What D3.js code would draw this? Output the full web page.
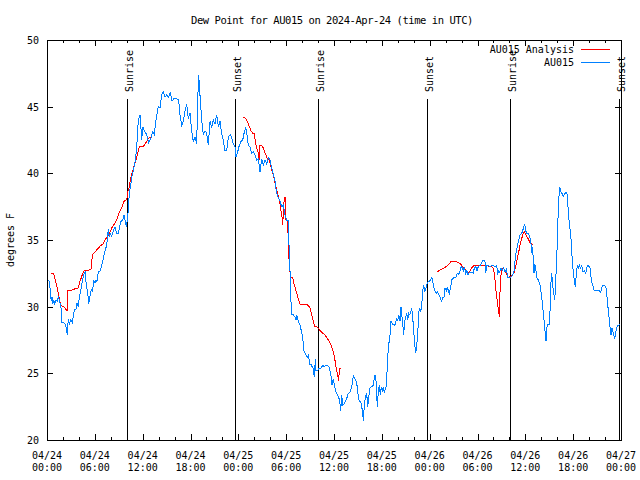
<!DOCTYPE html>
<html><head><meta charset="utf-8">
<script src="https://cdn.jsdelivr.net/npm/d3@7"></script>
<style>html,body{margin:0;padding:0;background:#fff;} svg{display:block;}</style>
</head><body>
<svg id="chart" width="640" height="480"></svg>
<script>
const titleText = "Dew Point for AU015 on 2024-Apr-24 (time in UTC)";
const yLabelText = "degrees F";
const seriesNames = ["AU015 Analysis", "AU015"];
const seriesColors = ["#ff0000", "#0080ff"];
const startTime = "2024-04-24T00:00Z";
const endTime = "2024-04-27T00:00Z";
const yDomain = [20, 50];
const yTicks = [20, 25, 30, 35, 40, 45, 50];

// AU015 observations: hours since start, value (deg F)
const obsHours = [
0.16,0.34,0.41,0.54,0.63,0.72,0.84,0.97,1.13,1.29,1.42,1.59,
1.76,1.84,2.04,2.30,2.42,2.55,2.67,2.80,2.97,3.17,3.35,3.47,
3.64,3.76,3.93,4.05,4.18,4.35,4.48,4.68,4.80,4.93,5.11,5.23,
5.36,5.48,5.61,5.68,5.86,6.02,6.15,6.27,6.44,6.69,6.86,7.06,
7.28,7.49,7.69,7.81,7.94,8.12,8.37,8.53,8.74,8.94,9.12,9.28,
9.50,9.66,9.78,9.95,10.07,10.20,10.32,10.50,10.62,10.79,10.95,11.08,
11.25,11.45,11.67,11.88,12.00,12.21,12.51,12.76,13.01,13.26,13.46,13.67,
13.96,14.17,14.39,14.59,14.80,15.02,15.27,15.47,15.68,15.93,16.27,16.52,
16.68,16.90,17.10,17.31,17.52,17.72,17.94,18.15,18.35,18.56,18.78,18.90,
19.03,19.10,19.23,19.41,19.61,19.82,20.03,20.23,20.45,20.66,20.86,21.07,
21.29,21.49,21.70,21.91,22.11,22.33,22.54,22.74,22.96,23.17,23.37,23.58,
23.71,23.87,24.12,24.33,24.55,24.75,24.93,25.09,25.25,25.46,25.68,25.88,
26.09,26.30,26.51,26.72,26.93,27.13,27.35,27.56,27.76,27.97,28.19,28.39,
28.60,28.81,29.01,29.23,29.44,29.64,29.85,30.07,30.27,30.32,30.39,30.48,
30.57,30.64,30.90,31.11,31.23,31.32,31.52,31.74,31.90,32.07,32.24,32.49,
32.65,32.83,32.90,33.08,33.24,33.40,33.53,33.66,33.74,33.96,34.16,34.37,
34.58,34.75,34.96,35.16,35.37,35.59,35.75,35.91,36.09,36.25,36.42,36.59,
36.72,36.84,36.97,37.09,37.29,37.59,37.80,38.01,38.22,38.42,38.63,38.76,
38.92,39.05,39.17,39.35,39.48,39.60,39.68,39.80,39.93,40.10,40.23,40.35,
40.52,40.73,40.93,41.06,41.18,41.27,41.43,41.56,41.68,41.81,41.93,42.06,
42.19,42.31,42.44,42.56,42.69,42.81,43.03,43.15,43.36,43.56,43.69,43.87,
43.99,44.12,44.28,44.41,44.49,44.62,44.74,44.87,45.00,45.12,45.25,45.37,
45.50,45.62,45.75,45.87,46.00,46.12,46.25,46.37,46.50,46.63,46.75,46.88,
47.00,47.13,47.25,47.38,47.54,47.70,47.92,48.13,48.29,48.46,48.63,48.88,
49.01,49.17,49.30,49.51,49.64,49.80,49.92,50.09,50.21,50.34,50.46,50.64,
50.76,50.93,51.05,51.27,51.47,51.60,51.77,51.89,52.06,52.22,52.35,52.52,
52.68,52.81,53.02,53.27,53.47,53.60,53.78,53.94,54.10,54.32,54.53,54.73,
54.94,55.03,55.16,55.36,55.57,55.78,55.98,56.20,56.41,56.53,56.66,56.79,
56.95,57.11,57.29,57.45,57.62,57.79,57.95,58.20,58.42,58.58,58.70,58.83,
58.99,59.17,59.33,59.54,59.67,59.80,59.92,60.05,60.17,60.38,60.50,60.68,
60.80,60.88,61.01,61.09,61.18,61.30,61.43,61.63,61.84,62.00,62.18,62.34,
62.51,62.59,62.68,62.81,63.01,63.10,63.18,63.31,63.44,63.56,63.69,63.81,
63.94,64.06,64.19,64.31,64.44,64.60,64.76,64.98,65.19,65.31,65.39,65.57,
65.73,65.89,66.02,66.14,66.27,66.40,66.52,66.65,66.77,66.90,67.07,67.23,
67.40,67.57,67.74,67.90,68.11,68.28,68.45,68.65,68.95,69.28,69.45,69.62,
69.78,69.96,70.12,70.28,70.46,70.62,70.75,70.87,71.04,71.21,71.38,71.54,
71.72,71.80];
const obsValues = [
32.0,31.8,31.1,30.4,30.7,30.2,30.5,30.2,30.5,30.4,30.8,30.4,
29.9,28.8,28.8,28.7,28.4,27.9,29.1,28.7,29.0,28.8,29.5,29.8,
29.8,30.3,30.0,30.7,31.1,31.6,32.1,32.5,32.6,31.6,31.0,30.2,
30.7,31.1,31.3,31.1,31.9,31.8,32.0,31.9,32.6,32.7,33.1,33.6,
34.2,34.6,35.8,35.2,35.5,35.3,35.8,36.0,35.5,35.5,36.0,36.4,
36.5,36.9,36.5,36.0,36.5,37.2,38.5,39.1,39.7,40.1,40.6,41.0,
41.9,44.0,44.4,42.5,43.5,43.2,42.9,42.3,42.6,43.1,42.9,44.0,
45.0,44.9,45.9,46.1,45.7,45.9,45.7,46.1,45.4,45.6,45.6,45.5,
44.4,43.6,43.9,44.7,45.2,44.1,44.5,43.2,42.4,42.7,42.2,45.5,
47.4,46.7,45.5,44.0,42.9,43.2,43.0,42.1,43.9,43.4,44.0,43.7,
44.4,43.5,43.9,43.0,42.5,41.7,41.7,42.7,42.9,42.7,42.2,42.0,
41.2,41.5,42.1,42.4,42.5,43.1,43.4,42.9,42.1,42.0,41.5,41.6,
41.4,41.0,41.1,40.1,41.1,40.6,41.0,40.7,41.2,41.0,40.4,39.9,
39.4,38.5,38.2,37.9,37.5,37.6,36.9,36.5,36.5,35.2,34.2,32.7,
31.5,29.4,29.4,29.2,29.0,29.4,28.9,28.6,28.2,27.7,26.7,26.4,
26.2,26.4,25.7,25.7,25.5,25.4,24.7,26.1,25.2,25.2,25.4,25.4,
25.6,25.5,25.6,25.6,25.5,25.0,24.1,24.6,24.0,23.6,23.4,23.2,
22.9,22.2,23.4,22.6,22.7,23.1,23.5,23.6,24.0,24.8,24.6,24.4,
24.0,23.2,22.9,22.9,22.5,22.0,21.4,22.6,23.2,23.5,22.5,23.2,
23.9,24.0,24.1,24.7,24.9,24.4,22.5,23.6,24.1,23.4,24.0,23.6,
24.0,23.5,23.9,24.0,25.6,26.9,27.9,28.9,28.7,28.6,28.7,29.1,
28.9,29.4,28.9,30.0,29.5,28.7,27.9,28.9,29.2,29.5,29.0,29.5,
29.4,29.6,29.9,29.2,28.2,27.2,26.5,27.1,27.9,29.6,29.9,29.6,
30.1,31.2,31.6,31.1,31.4,31.8,31.9,32.0,32.2,31.6,31.2,31.0,
31.1,30.9,30.7,30.4,30.7,30.7,31.4,31.2,31.5,31.2,31.0,31.5,
32.0,32.1,32.2,32.2,32.5,32.4,32.6,32.9,33.0,32.7,33.0,32.5,
32.7,32.4,32.6,32.6,32.5,32.9,33.0,32.7,33.0,33.1,33.3,33.5,
33.4,32.5,33.1,33.1,33.0,33.1,33.1,33.0,33.1,32.4,32.7,32.6,
32.9,32.7,32.9,32.6,32.8,32.2,32.2,32.2,32.4,32.7,33.4,34.0,
34.5,35.0,35.4,35.5,35.7,36.0,36.2,35.7,35.5,35.5,35.3,35.0,
34.0,34.5,33.5,32.5,33.2,32.9,32.2,32.0,31.6,31.0,30.0,29.0,
27.9,27.4,28.4,28.7,28.7,29.7,31.5,32.5,31.5,31.0,30.5,32.0,
33.5,36.0,38.0,39.0,38.6,38.5,38.3,38.5,38.6,38.1,37.0,36.0,
35.1,33.5,32.5,32.0,31.5,32.5,33.1,32.9,33.1,32.9,33.1,32.6,
32.7,32.5,33.0,33.1,32.9,32.0,31.6,31.2,31.2,31.2,31.1,31.5,
31.6,31.6,31.4,30.5,29.4,28.5,27.9,28.4,28.0,27.6,28.2,28.6,
28.6,28.7];

// AU015 Analysis: hours since start, value; null marks a gap
const anaHours = [
0.50,0.84,1.00,1.22,1.42,1.59,1.76,2.04,2.26,2.51,2.63,2.89,3.30,3.93,4.14,4.43,
4.68,4.98,5.52,5.61,5.73,6.02,6.44,6.77,7.06,7.28,7.61,7.90,8.12,8.44,8.74,9.03,
9.37,9.66,9.91,10.03,10.12,10.29,10.45,10.70,10.95,11.25,11.45,11.58,12.08,12.51,12.83,13.13,
null,
24.62,24.96,25.13,25.38,25.59,25.80,26.00,26.13,26.30,26.51,26.59,26.72,26.93,27.13,27.38,27.63,
27.88,28.06,28.22,28.39,28.56,28.73,28.89,29.06,29.23,29.35,29.48,29.57,29.64,29.77,29.89,29.98,
30.14,30.23,30.32,30.39,30.57,30.82,30.98,31.15,31.32,31.52,31.74,31.95,32.36,32.78,32.99,33.20,
33.40,33.62,33.83,34.03,34.24,34.58,34.87,35.16,35.41,35.71,35.91,36.09,36.25,36.42,36.59,36.67,36.92,
null,
48.88,49.17,49.51,49.84,50.05,50.26,50.46,50.68,50.96,51.27,51.60,51.89,52.09,52.35,52.60,52.77,
52.97,53.27,53.60,53.90,54.32,54.73,55.16,55.57,55.78,55.98,56.11,56.20,56.32,56.45,56.53,56.66,
56.73,56.82,56.91,57.04,57.24,57.45,57.66,57.87,58.17,58.42,58.62,58.83,58.99,59.17,59.33,59.54,
59.75,59.87,60.08,60.25,60.43,60.59,60.80,61.01];
const anaValues = [
32.5,32.5,32.1,31.6,31.0,30.4,30.1,30.0,29.9,29.7,31.2,31.2,31.3,31.4,31.9,32.4,
32.7,32.7,32.8,33.4,33.9,34.1,34.4,34.6,34.7,35.0,35.3,35.6,35.9,36.2,36.5,37.0,
37.4,37.9,38.0,38.1,38.6,38.9,39.5,40.1,40.6,41.2,41.7,42.0,42.0,42.4,42.7,42.7,
null,
44.2,44.1,43.9,43.5,43.2,43.0,43.0,42.4,41.9,41.5,41.0,42.1,42.1,41.9,41.5,41.1,
41.0,40.6,40.2,39.9,39.4,39.0,38.6,38.2,37.7,37.2,36.7,36.1,37.0,38.2,38.2,36.5,
36.5,35.5,34.2,33.0,32.2,32.2,31.7,31.4,31.0,30.6,30.2,30.2,30.2,30.1,29.9,29.4,
28.9,28.5,28.5,28.4,28.2,28.0,27.9,27.6,27.4,27.0,26.6,26.1,25.5,25.0,24.4,25.4,25.4,
null,
32.6,32.7,32.8,32.9,33.0,33.1,33.2,33.4,33.4,33.4,33.3,33.2,33.0,32.9,32.6,32.4,
32.6,32.9,33.1,33.1,33.1,33.1,33.1,33.0,33.0,32.9,32.5,32.0,31.2,30.6,30.1,29.7,
29.2,31.0,32.2,32.7,32.9,32.7,32.4,32.2,32.3,32.4,32.6,33.1,33.6,34.1,34.6,35.1,
35.5,35.6,35.4,35.2,35.0,34.8,34.7,34.7];

const sunTimes = ["2024-04-24T10:04Z","2024-04-24T23:37Z","2024-04-25T10:02Z",
                  "2024-04-25T23:42Z","2024-04-26T10:07Z","2024-04-26T23:47Z"];
const sunLabels = ["Sunrise","Sunset","Sunrise","Sunset","Sunrise","Sunset"];

const FONT = "'DejaVu Sans Mono','Liberation Mono',monospace";
const svg = d3.select("#chart");
const L = 47, R = 621, T = 40, B = 440;
const t0 = new Date(startTime);
const x = d3.scaleUtc().domain([t0, new Date(endTime)]).range([L, R]);
const y = d3.scaleLinear().domain(yDomain).range([B, T]);
const toDate = h => new Date(t0.getTime() + h * 3600e3);

svg.append("rect").attr("width", 640).attr("height", 480).attr("fill", "#fff");

// axes (ticks inward, mirrored)
function styleAxis(g) {
  g.select(".domain").remove();
  g.selectAll("line").attr("stroke", "#000");
  g.attr("font-family", FONT).attr("font-size", 10).attr("shape-rendering", "crispEdges");
}
const major = d3.utcHour.every(6), minor = d3.utcHour.every(2);
svg.append("g").attr("transform", `translate(0,${B})`)
  .call(d3.axisBottom(x).ticks(minor).tickSize(-3).tickFormat("")).call(styleAxis);
svg.append("g").attr("transform", `translate(0,${B})`)
  .call(d3.axisBottom(x).ticks(major).tickSize(-6).tickFormat("")).call(styleAxis);
svg.append("g").attr("transform", `translate(0,${T})`)
  .call(d3.axisTop(x).ticks(minor).tickSize(-3).tickFormat("")).call(styleAxis);
svg.append("g").attr("transform", `translate(0,${T})`)
  .call(d3.axisTop(x).ticks(major).tickSize(-6).tickFormat("")).call(styleAxis);
svg.append("g").attr("transform", `translate(${L},0)`)
  .call(d3.axisLeft(y).tickValues(yTicks).tickSize(-6).tickPadding(8).tickFormat(d3.format("d")))
  .call(styleAxis)
  .call(g => g.selectAll("text").attr("fill", "#000").attr("dy", "0.35em"));
svg.append("g").attr("transform", `translate(${R},0)`)
  .call(d3.axisRight(y).tickValues(yTicks).tickSize(-6).tickFormat("")).call(styleAxis);

// x tick labels, two lines
const fmtDay = d3.utcFormat("%m/%d"), fmtTime = d3.utcFormat("%H:%M");
const xl = svg.append("g").attr("font-family", FONT).attr("font-size", 10).attr("text-anchor", "middle");
x.ticks(major).forEach(d => {
  const t = xl.append("text").attr("x", x(d)).attr("y", 459);
  t.append("tspan").attr("x", x(d)).attr("y", 459).text(fmtDay(d));
  t.append("tspan").attr("x", x(d)).attr("y", 471).text(fmtTime(d));
});

// border
svg.append("rect").attr("x", L + 0.5).attr("y", T + 0.5)
  .attr("width", R - L).attr("height", B - T)
  .attr("fill", "none").attr("stroke", "#000").attr("shape-rendering", "crispEdges");

// sunrise / sunset markers
sunTimes.forEach((s, i) => {
  const sx = Math.round(x(new Date(s))) + 0.5;
  svg.append("line").attr("x1", sx).attr("x2", sx).attr("y1", 99).attr("y2", B)
    .attr("stroke", "#000").attr("shape-rendering", "crispEdges");
  svg.append("text").attr("transform", `translate(${sx + 5},92) rotate(-90)`)
    .attr("font-family", FONT).attr("font-size", 10).attr("text-anchor", "start")
    .text(sunLabels[i]);
});

// series
const obs = obsHours.map((h, i) => ({ t: toDate(h), v: obsValues[i] }));
const ana = anaHours.map((h, i) => ({ t: h == null ? null : toDate(h), v: anaValues[i] }));
const line = d3.line().defined(d => d.v != null).x(d => x(d.t)).y(d => y(d.v));
svg.append("path").datum(ana).attr("d", line).attr("fill", "none")
  .attr("stroke", seriesColors[0]).attr("stroke-width", 1).attr("shape-rendering", "crispEdges");
svg.append("path").datum(obs).attr("d", line).attr("fill", "none")
  .attr("stroke", seriesColors[1]).attr("stroke-width", 1).attr("shape-rendering", "crispEdges");

// legend
seriesNames.forEach((n, i) => {
  const ly = 49.5 + i * 13;
  svg.append("text").attr("x", 574).attr("y", ly + 3.5).attr("text-anchor", "end")
    .attr("font-family", FONT).attr("font-size", 10).text(n);
  svg.append("line").attr("x1", 581).attr("x2", 610).attr("y1", ly).attr("y2", ly)
    .attr("stroke", seriesColors[i]).attr("shape-rendering", "crispEdges");
});

// title and y label
svg.append("text").attr("x", 332).attr("y", 24).attr("text-anchor", "middle")
  .attr("font-family", FONT).attr("font-size", 10.5).attr("letter-spacing", "-0.45px").text(titleText);
svg.append("text").attr("transform", "translate(14,240) rotate(-90)")
  .attr("text-anchor", "middle").attr("font-family", FONT).attr("font-size", 10).text(yLabelText);
</script>
</body></html>
